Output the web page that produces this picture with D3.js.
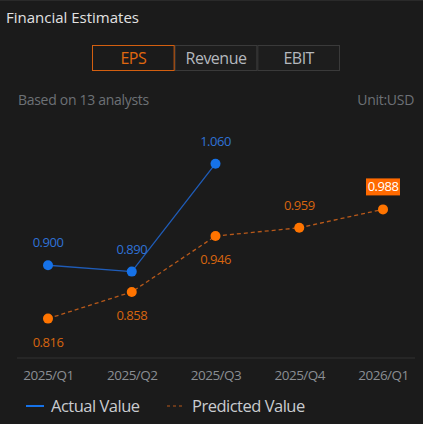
<!DOCTYPE html>
<html>
<head>
<meta charset="utf-8">
<script src="https://cdn.jsdelivr.net/npm/d3@7"></script>
<style>
  html, body { margin: 0; padding: 0; background: #1b1b1b; }
  svg { display: block; font-family: "Open Sans", "Noto Sans", sans-serif; }
</style>
</head>
<body>
<svg id="chart" width="423" height="424"></svg>
<script>
// quarters shown on the x axis
var quarters = ["2025/Q1", "2025/Q2", "2025/Q3", "2025/Q4", "2026/Q1"];
// actual EPS (only reported quarters)
var actualValues = [0.900, 0.890, 1.060];
// analyst consensus EPS
var predictedValues = [0.816, 0.858, 0.946, 0.959, 0.988];
var tabs = ["EPS", "Revenue", "EBIT"];

var svg = d3.select("#chart");
var W = 423, H = 424;

svg.append("rect").attr("width", W).attr("height", H).attr("fill", "#1b1b1b");
svg.append("line").attr("x1", 0).attr("x2", W).attr("y1", 0.5).attr("y2", 0.5)
    .attr("stroke", "#2a2a2a");

// title
svg.append("text")
    .attr("x", 6).attr("y", 23)
    .attr("fill", "#e2e2e2")
    .attr("font-size", "15px")
    .text("Financial Estimates");

// tab buttons
var tabX = d3.scaleBand().domain(tabs).range([92, 340]);
var tabG = svg.append("g");
tabs.forEach(function(t, i){
    if(i == 0) return;
    tabG.append("rect")
        .attr("x", tabX(t) + 0.5).attr("y", 45.5)
        .attr("width", tabX.bandwidth() - 1).attr("height", 25)
        .attr("fill", "#1d1d1d")
        .attr("stroke", "#3a3a3a");
});
tabs.forEach(function(t, i){
    if(i != 0) return;
    tabG.append("rect")
        .attr("x", tabX(t) + 0.5).attr("y", 45.5)
        .attr("width", tabX.bandwidth() - 1).attr("height", 25)
        .attr("fill", "#1b1b1b")
        .attr("stroke", "#d35f10");
});
tabs.forEach(function(t, i){
    tabG.append("text")
        .attr("x", tabX(t) + tabX.bandwidth()/2).attr("y", 64)
        .attr("text-anchor", "middle")
        .attr("font-size", "16px")
        .attr("letter-spacing", "-0.5px")
        .attr("fill", i == 0 ? "#e0680f" : "#b4b8bd")
        .text(t);
});

// sub header
svg.append("text")
    .attr("x", 18).attr("y", 105)
    .attr("fill", "#6d7176").attr("font-size", "14px")
    .attr("letter-spacing", "-0.3px")
    .text("Based on 13 analysts");
svg.append("text")
    .attr("x", 414).attr("y", 105)
    .attr("text-anchor", "end")
    .attr("fill", "#6d7176").attr("font-size", "14px")
    .attr("letter-spacing", "-0.3px")
    .text("Unit:USD");

// scales
var x = d3.scalePoint().domain(quarters).range([48, 383]);
var y = d3.scaleLinear().domain([0.75, 1.10]).range([360.5, 138.3]);

// x axis
var xAxis = d3.axisBottom(x).tickSize(0).tickPadding(12);
var axisG = svg.append("g")
    .attr("transform", "translate(0,358)")
    .call(xAxis);
axisG.select(".domain").remove();
axisG.append("line")
    .attr("x1", 17).attr("x2", 415)
    .attr("stroke", "#333333");
axisG.selectAll("text")
    .attr("fill", "#8a8e93")
    .attr("font-size", "13.5px")
    .attr("letter-spacing", "-0.5px")
    .attr("font-family", "'Open Sans', 'Noto Sans', sans-serif");

var line = d3.line()
    .x(function(d, i){ return x(quarters[i]); })
    .y(function(d){ return y(d); });

// predicted series
svg.append("path")
    .datum(predictedValues)
    .attr("d", line)
    .attr("fill", "none")
    .attr("stroke", "#b8591a")
    .attr("stroke-width", 1.3)
    .attr("stroke-dasharray", "4,3");

// actual series
svg.append("path")
    .datum(actualValues)
    .attr("d", line)
    .attr("fill", "none")
    .attr("stroke", "#1f5cb8")
    .attr("stroke-width", 1.3);

svg.append("g").selectAll("circle")
    .data(predictedValues)
    .enter().append("circle")
    .attr("cx", function(d, i){ return x(quarters[i]); })
    .attr("cy", function(d){ return y(d); })
    .attr("r", 5)
    .attr("fill", "#ff7400");

svg.append("g").selectAll("circle")
    .data(actualValues)
    .enter().append("circle")
    .attr("cx", function(d, i){ return x(quarters[i]); })
    .attr("cy", function(d){ return y(d); })
    .attr("r", 5)
    .attr("fill", "#1672e8");

// labels: actual above the points
svg.append("g").selectAll("text")
    .data(actualValues)
    .enter().append("text")
    .attr("x", function(d, i){ return x(quarters[i]); })
    .attr("y", function(d){ return y(d) - 18; })
    .attr("text-anchor", "middle")
    .attr("font-size", "13px")
    .attr("letter-spacing", "-0.5px")
    .attr("fill", "#2f72d6")
    .text(function(d){ return d3.format(".3f")(d); });

// labels: predicted below where actual exists, above otherwise
var last = predictedValues.length - 1;
predictedValues.forEach(function(d, i){
    var px = x(quarters[i]);
    var below = i < actualValues.length;
    var ly = below ? y(d) + 28 : y(d) - 18;
    if(i == last){
        svg.append("rect")
            .attr("x", px - 17).attr("y", y(d) - 31)
            .attr("width", 34).attr("height", 17)
            .attr("fill", "#ff6a00");
    }
    svg.append("text")
        .attr("x", px).attr("y", ly)
        .attr("text-anchor", "middle")
        .attr("font-size", "13px")
        .attr("letter-spacing", "-0.5px")
        .attr("fill", i == last ? "#ffffff" : "#d7650f")
        .text(d3.format(".3f")(d));
});

// legend
var lg = svg.append("g").attr("transform", "translate(0,406)");
lg.append("line")
    .attr("x1", 26).attr("x2", 44)
    .attr("stroke", "#1672e8").attr("stroke-width", 2);
lg.append("text")
    .attr("x", 51).attr("y", 6)
    .attr("font-size", "16.5px").attr("fill", "#c9ccd0")
    .attr("letter-spacing", "-0.5px")
    .text("Actual Value");
lg.append("line")
    .attr("x1", 167).attr("x2", 185)
    .attr("stroke", "#b8591a").attr("stroke-width", 1.2)
    .attr("stroke-dasharray", "3,3");
lg.append("text")
    .attr("x", 192).attr("y", 6)
    .attr("font-size", "16.5px").attr("fill", "#c9ccd0")
    .attr("letter-spacing", "-0.5px")
    .text("Predicted Value");
</script>
</body>
</html>
